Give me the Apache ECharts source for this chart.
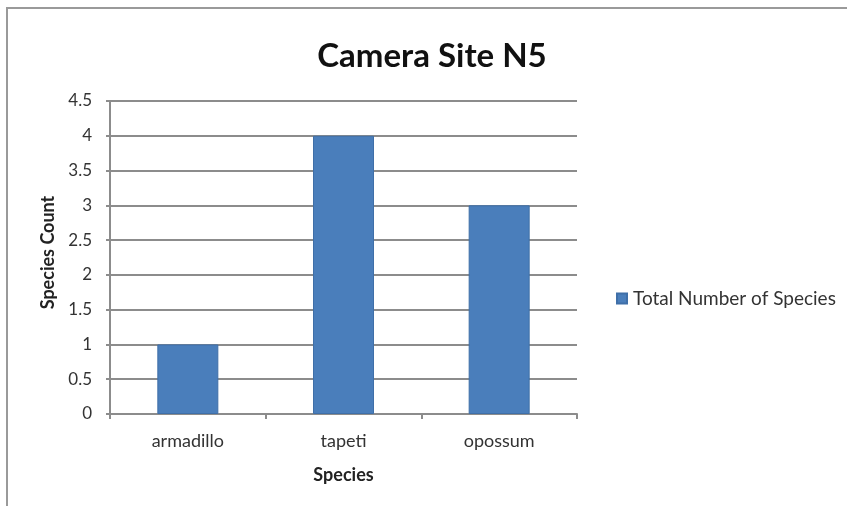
<!DOCTYPE html>
<html>
<head>
<meta charset="utf-8">
<script src="https://cdn.jsdelivr.net/npm/echarts@6/dist/echarts.min.js"></script>
<style>
  html, body { margin: 0; padding: 0; background: #fff; }
  #chart { width: 847px; height: 506px; }
</style>
</head>
<body>
<div id="chart"></div>
<script>
// Species counts recorded at camera site N5
const species = ['armadillo', 'tapeti', 'opossum'];
const speciesCount = [1, 4, 3];
const seriesName = 'Total Number of Species';
const chartTitle = 'Camera Site N5';

const chart = echarts.init(document.getElementById('chart'));
const font = 'Lato, "Open Sans", sans-serif';

chart.setOption({
  animation: false,
  backgroundColor: '#ffffff',
  title: {
    text: chartTitle,
    left: 427,
    top: 35,
    textAlign: 'center',
    textStyle: { fontFamily: font, fontSize: 33, fontWeight: 'bold', color: '#111' }
  },
  graphic: [
    { type: 'line', shape: { x1: 6, y1: 8, x2: 847, y2: 8 }, style: { stroke: '#9a9a9a', lineWidth: 2 } },
    { type: 'line', shape: { x1: 7, y1: 8, x2: 7, y2: 506 }, style: { stroke: '#9a9a9a', lineWidth: 2 } }
  ],
  legend: {
    left: 611,
    top: 284,
    itemWidth: 10,
    itemHeight: 10,
    itemGap: 5,
    icon: 'rect',
    textStyle: { fontFamily: font, fontSize: 19, color: '#333', padding: [0, 0, 0, 1] },
    data: [seriesName]
  },
  grid: { left: 110, right: 270, top: 101, bottom: 92, containLabel: false },
  xAxis: {
    type: 'category',
    data: species,
    name: 'Species',
    nameLocation: 'middle',
    nameGap: 52,
    nameTextStyle: { fontFamily: font, fontSize: 18, fontWeight: 'bold', color: '#222' },
    axisLine: { lineStyle: { color: '#8c8c8c', width: 2 } },
    axisTick: { show: true, length: 5, lineStyle: { color: '#8c8c8c', width: 2 } },
    axisLabel: { fontFamily: font, fontSize: 18, color: '#333', margin: 18 }
  },
  yAxis: {
    type: 'value',
    min: 0,
    max: 4.5,
    interval: 0.5,
    name: 'Species Count',
    nameLocation: 'middle',
    nameRotate: 90,
    nameGap: 52,
    nameTextStyle: { fontFamily: font, fontSize: 18, fontWeight: 'bold', color: '#222', padding: [0, 0, 0, 10] },
    axisLine: { show: true, lineStyle: { color: '#8c8c8c', width: 2 } },
    axisTick: { show: true, length: 4, lineStyle: { color: '#8c8c8c', width: 2 } },
    axisLabel: { fontFamily: font, fontSize: 17, color: '#333', margin: 18 },
    splitLine: { lineStyle: { color: '#8c8c8c', width: 2 } }
  },
  series: [{
    name: seriesName,
    type: 'bar',
    data: speciesCount,
    barWidth: 61,
    itemStyle: { color: '#4a7ebb', borderColor: '#3f6fa8', borderWidth: 1 }
  }]
});
</script>
</body>
</html>
